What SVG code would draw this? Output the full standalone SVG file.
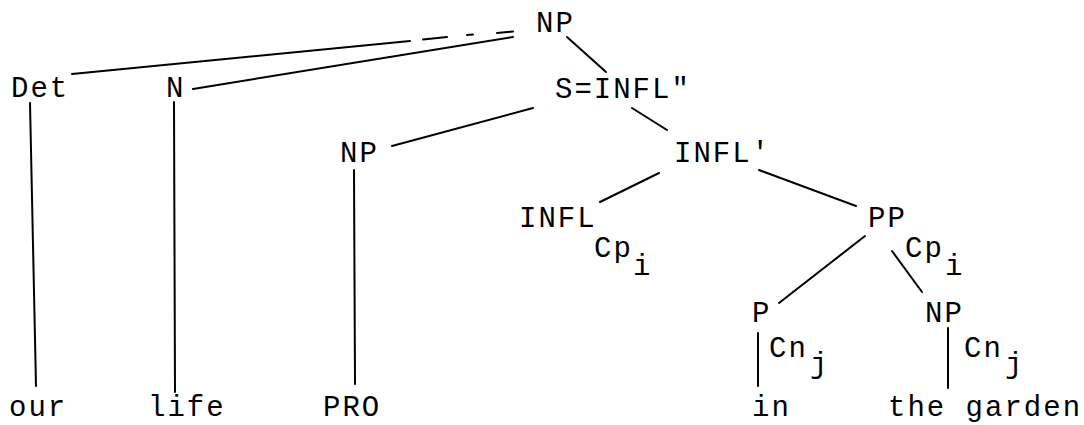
<svg xmlns="http://www.w3.org/2000/svg" width="1084" height="425" viewBox="0 0 1084 425">
<style>
text{font-family:"Liberation Mono","DejaVu Sans Mono",monospace;font-size:29px;letter-spacing:2px;fill:#000}
line{stroke:#000;stroke-width:2;stroke-linecap:round}
</style>
<rect width="1084" height="425" fill="#fff"/>
<g id="connectors">
<line x1="72" y1="74" x2="410" y2="41"/>
<line x1="423" y1="39.5" x2="447" y2="37"/>
<line x1="467" y1="35" x2="473" y2="34.5"/>
<line x1="497" y1="33" x2="513" y2="31.5"/>
<line x1="193" y1="89" x2="513" y2="37"/>
<line x1="567" y1="37" x2="606" y2="72"/>
<line x1="533" y1="108" x2="392" y2="146"/>
<line x1="632" y1="108" x2="667" y2="130"/>
<line x1="659" y1="173" x2="600" y2="202"/>
<line x1="759" y1="170" x2="856" y2="206"/>
<line x1="865" y1="236" x2="779" y2="303"/>
<line x1="892" y1="251" x2="922" y2="292"/>
<line x1="30" y1="103" x2="36" y2="386"/>
<line x1="174" y1="102" x2="175" y2="392"/>
<line x1="354" y1="170" x2="355" y2="384"/>
<line x1="758" y1="333" x2="758" y2="386"/>
<line x1="948" y1="328" x2="948" y2="388"/>
</g>
<g id="np-root"><text x="536" y="32">NP</text></g>
<g id="det"><text x="11" y="97">Det</text></g>
<g id="n"><text x="166" y="97">N</text></g>
<g id="s-infl2"><text x="555" y="98">S=INFL"</text></g>
<g id="np-subj"><text x="340" y="162">NP</text></g>
<g id="infl1"><text x="674" y="162">INFL'</text></g>
<g id="infl"><text x="519" y="227">INFL</text></g>
<g id="pp"><text x="868" y="227">PP</text></g>
<g id="cp-infl"><text x="594" y="257">Cp</text><text x="633" y="275">i</text></g>
<g id="cp-pp"><text x="905" y="257">Cp</text><text x="945" y="275">i</text></g>
<g id="p"><text x="752" y="322">P</text></g>
<g id="np-obj"><text x="925" y="322">NP</text></g>
<g id="cn-p"><text x="769" y="357">Cn</text><text x="810" y="373">j</text></g>
<g id="cn-np"><text x="964" y="357">Cn</text><text x="1005" y="373">j</text></g>
<g id="w-our"><text x="9" y="416">our</text></g>
<g id="w-life"><text x="148" y="416">life</text></g>
<g id="w-pro"><text x="323" y="416">PRO</text></g>
<g id="w-in"><text x="752" y="416">in</text></g>
<g id="w-garden"><text x="888" y="416">the garden</text></g>
</svg>
